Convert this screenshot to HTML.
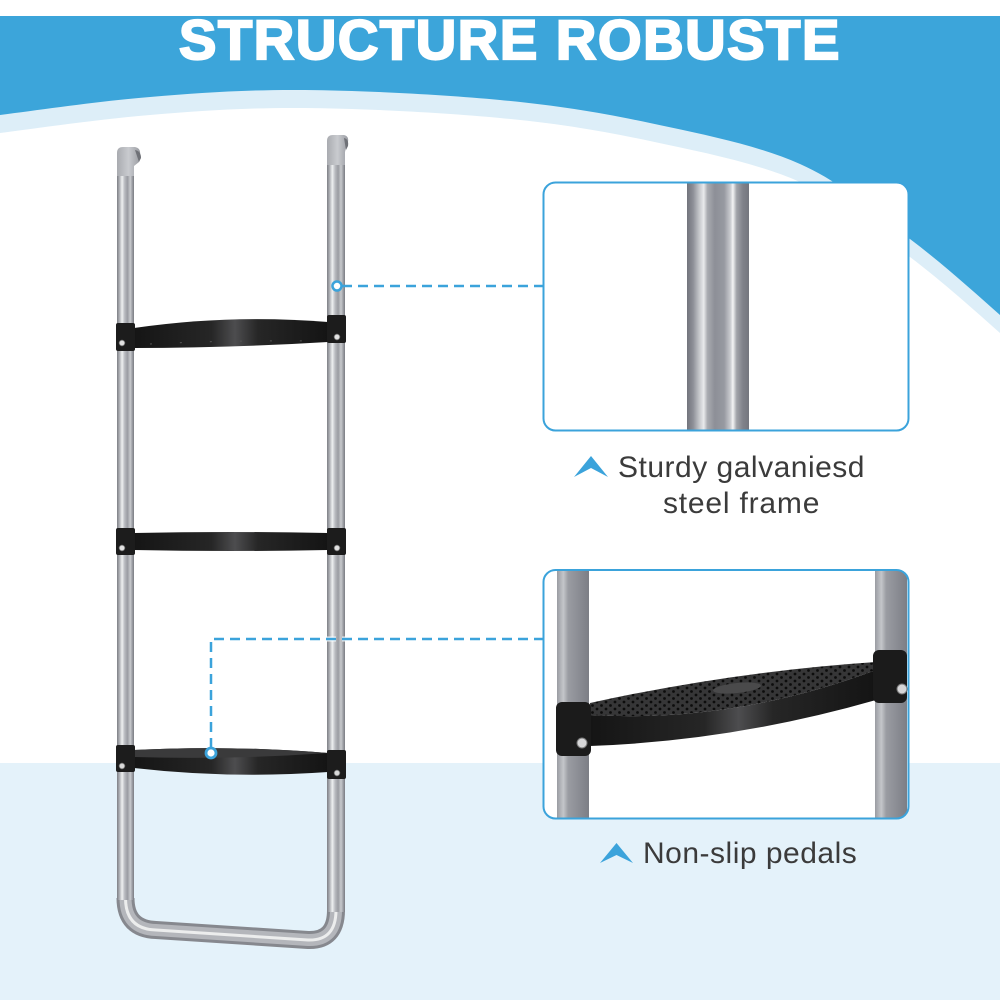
<!DOCTYPE html>
<html>
<head>
<meta charset="utf-8">
<style>
  html,body{margin:0;padding:0;background:#ffffff;}
  svg{display:block;}
</style>
</head>
<body>
<svg width="1000" height="1000" viewBox="0 0 1000 1000" xmlns="http://www.w3.org/2000/svg">
  <defs>
    <linearGradient id="tube" x1="0" y1="0" x2="1" y2="0">
      <stop offset="0" stop-color="#7e8086"/>
      <stop offset="0.12" stop-color="#a4a6ab"/>
      <stop offset="0.3" stop-color="#eef0f1"/>
      <stop offset="0.45" stop-color="#b9bbc0"/>
      <stop offset="0.62" stop-color="#9a9ca2"/>
      <stop offset="0.78" stop-color="#c8cacd"/>
      <stop offset="0.9" stop-color="#9b9da3"/>
      <stop offset="1" stop-color="#7a7c82"/>
    </linearGradient>
    <linearGradient id="bigpole" x1="0" y1="0" x2="1" y2="0">
      <stop offset="0" stop-color="#72747c"/>
      <stop offset="0.1" stop-color="#8e9098"/>
      <stop offset="0.2" stop-color="#c6c8cc"/>
      <stop offset="0.27" stop-color="#e9eaec"/>
      <stop offset="0.33" stop-color="#a9abb1"/>
      <stop offset="0.45" stop-color="#8d8f97"/>
      <stop offset="0.6" stop-color="#979aa1"/>
      <stop offset="0.7" stop-color="#c9cbcf"/>
      <stop offset="0.74" stop-color="#f4f4f5"/>
      <stop offset="0.8" stop-color="#a2a4aa"/>
      <stop offset="0.9" stop-color="#80828a"/>
      <stop offset="1" stop-color="#74767e"/>
    </linearGradient>
    <linearGradient id="pole2" x1="0" y1="0" x2="1" y2="0">
      <stop offset="0" stop-color="#9a9ca2"/>
      <stop offset="0.2" stop-color="#c4c6ca"/>
      <stop offset="0.35" stop-color="#9a9ca2"/>
      <stop offset="0.7" stop-color="#8a8c93"/>
      <stop offset="1" stop-color="#7c7e85"/>
    </linearGradient>
    <linearGradient id="rung" x1="0" y1="0" x2="1" y2="0">
      <stop offset="0" stop-color="#151515"/>
      <stop offset="0.4" stop-color="#262626"/>
      <stop offset="0.52" stop-color="#4d4d4f"/>
      <stop offset="0.64" stop-color="#262626"/>
      <stop offset="1" stop-color="#141414"/>
    </linearGradient>
    <linearGradient id="hook" x1="0" y1="0" x2="1" y2="0">
      <stop offset="0" stop-color="#a9abb0"/>
      <stop offset="0.5" stop-color="#c9cbcf"/>
      <stop offset="1" stop-color="#9a9ca2"/>
    </linearGradient>
    <pattern id="dots" width="9" height="7" patternUnits="userSpaceOnUse">
      <rect width="9" height="7" fill="#363637"/>
      <circle cx="3" cy="2" r="1.4" fill="#0c0c0c"/>
      <circle cx="7.5" cy="5.5" r="1.4" fill="#0c0c0c"/>
    </pattern>
    <clipPath id="clip1"><rect x="543.5" y="182.5" width="365" height="248" rx="12"/></clipPath>
    <clipPath id="clip2"><rect x="543.5" y="570" width="365" height="248.5" rx="12"/></clipPath>
  </defs>

  <!-- background -->
  <rect x="0" y="0" width="1000" height="1000" fill="#ffffff"/>
  <rect x="0" y="16" width="1000" height="420" fill="#3ca5da"/>
  <path transform="translate(0,-18)" fill="#ddeef8" d="M0,133 C41.7,127.7 99.2,119.2 150,115 C200.8,110.8 246.7,107.5 305,108 C363.3,108.5 442.5,112.5 500,118 C557.5,123.5 600,130.3 650,141 C700,151.7 756.7,162.7 800,182 C843.3,201.3 876.7,231.8 910,257 C943.3,282.2 975,310.8 1000,333 L1000,1000 L0,1000 Z"/>
  <path fill="#ffffff" d="M0,133 C41.7,127.7 99.2,119.2 150,115 C200.8,110.8 246.7,107.5 305,108 C363.3,108.5 442.5,112.5 500,118 C557.5,123.5 600,130.3 650,141 C700,151.7 756.7,162.7 800,182 C843.3,201.3 876.7,231.8 910,257 C943.3,282.2 975,310.8 1000,333 L1000,1000 L0,1000 Z"/>
  <rect x="0" y="763" width="1000" height="237" fill="#e4f2fa"/>

  <!-- title -->
  <text x="510" y="59" text-anchor="middle" font-family="'Liberation Sans', sans-serif" font-size="56" font-weight="bold" letter-spacing="1.6" fill="#ffffff" stroke="#ffffff" stroke-width="2.2">STRUCTURE ROBUSTE</text>

  <!-- ladder: U bottom -->
  <path d="M125.5,898 Q125.5,929 156,930 L308,940 Q336,941 336,910" fill="none" stroke="#86888e" stroke-width="18"/>
  <path d="M125.5,898 Q125.5,929 156,930 L308,940 Q336,941 336,910" fill="none" stroke="#b4b6bb" stroke-width="12"/>
  <path d="M125.5,898 Q125.5,929 156,930 L308,940 Q336,941 336,910" fill="none" stroke="#eceded" stroke-width="3"/>

  <!-- poles -->
  <rect x="117" y="166" width="17" height="734" fill="url(#tube)"/>
  <rect x="327" y="155" width="18" height="757" fill="url(#tube)"/>

  <!-- hooks -->
  <path d="M117,176 L117,153 Q117,147 123,147 L135,147 Q141,148 140,155 L139,162 L134,166 L134,176 Z" fill="url(#hook)"/>
  <path d="M135,150 Q141,151 141,158 L139,162 Z" fill="#6f7177"/>
  <path d="M327,165 L327,141 Q327,135 333,135 L344,135 Q349,136 348,142 L346,148 L345,152 L345,165 Z" fill="url(#hook)"/>
  <path d="M344,138 Q349,139 348,146 L346,150 Z" fill="#6f7177"/>

  <!-- rung 1 -->
  <path d="M134,328 Q230,314 328,322 L328,342 Q230,348 134,348 Z" fill="url(#rung)"/>
  <path d="M150,344 Q230,340 318,341" fill="none" stroke="#555" stroke-width="1" stroke-dasharray="2 28"/>
  <rect x="116" y="323" width="19" height="28" rx="2" fill="#1c1c1c"/>
  <rect x="327" y="315" width="19" height="28" rx="2" fill="#1c1c1c"/>
  <circle cx="122" cy="343" r="2.8" fill="#e2e2e2" stroke="#777" stroke-width="0.8"/>
  <circle cx="337" cy="337" r="2.8" fill="#e2e2e2" stroke="#777" stroke-width="0.8"/>

  <!-- rung 2 -->
  <path d="M134,533 Q230,531 328,533 L328,550 Q230,552 134,550 Z" fill="url(#rung)"/>
  <rect x="116" y="528" width="19" height="27" rx="2" fill="#1c1c1c"/>
  <rect x="327" y="528" width="19" height="27" rx="2" fill="#1c1c1c"/>
  <circle cx="122" cy="548" r="2.8" fill="#e2e2e2" stroke="#777" stroke-width="0.8"/>
  <circle cx="337" cy="548" r="2.8" fill="#e2e2e2" stroke="#777" stroke-width="0.8"/>

  <!-- rung 3 -->
  <path d="M134,750 Q230,745 328,753 L328,772 Q230,779 134,768 Z" fill="url(#rung)"/>
  <path d="M134,750 Q230,745 328,753 Q230,760 134,757 Z" fill="#3a3a3b"/>
  <rect x="116" y="745" width="19" height="27" rx="2" fill="#1c1c1c"/>
  <rect x="327" y="750" width="19" height="29" rx="2" fill="#1c1c1c"/>
  <circle cx="122" cy="766" r="2.8" fill="#d8d8d8" stroke="#777" stroke-width="0.8"/>
  <circle cx="337" cy="773" r="2.8" fill="#d8d8d8" stroke="#777" stroke-width="0.8"/>

  <!-- connectors -->
  <line x1="342" y1="286" x2="543" y2="286" stroke="#3ba3db" stroke-width="2.5" stroke-dasharray="10 6"/>
  <path d="M211,748 L211,639 L543,639" fill="none" stroke="#ffffff" stroke-width="5" stroke-dasharray="10 6" opacity="0.8"/>
  <path d="M211,748 L211,639 L543,639" fill="none" stroke="#3ba3db" stroke-width="2.5" stroke-dasharray="10 6"/>
  <circle cx="337" cy="286" r="4.5" fill="#ffffff" stroke="#3ba3db" stroke-width="2.5"/>
  <circle cx="211" cy="753" r="5" fill="#ffffff" stroke="#3ba3db" stroke-width="2.8"/>

  <!-- box 1 -->
  <rect x="543.5" y="182.5" width="365" height="248" rx="12" fill="#ffffff"/>
  <g clip-path="url(#clip1)">
    <rect x="687" y="180" width="62" height="255" fill="url(#bigpole)"/>
  </g>
  <rect x="543.5" y="182.5" width="365" height="248" rx="12" fill="none" stroke="#3ba3db" stroke-width="2"/>

  <!-- box 2 -->
  <rect x="543.5" y="570" width="365" height="248.5" rx="12" fill="#ffffff"/>
  <g clip-path="url(#clip2)">
    <rect x="557" y="565" width="32" height="260" fill="url(#pole2)"/>
    <rect x="875" y="565" width="32" height="260" fill="url(#pole2)"/>
    <!-- pedal -->
    <path d="M590,715 Q733,723.5 876,670 L876,700 Q733,741 590,746 Z" fill="url(#rung)"/>
    <path d="M590,703 Q733,671.5 876,662 L876,670 Q733,723.5 590,715 Z" fill="url(#dots)"/>
    <ellipse cx="737" cy="688" rx="24" ry="5" fill="#4a4a4b" transform="rotate(-6 737 688)"/>
    <rect x="873" y="650" width="34" height="53" rx="6" fill="#1b1b1b"/>
    <rect x="556" y="702" width="35" height="54" rx="6" fill="#1b1b1b"/>
    <circle cx="902" cy="689" r="5" fill="#d6d6d8" stroke="#777" stroke-width="1"/>
    <circle cx="582" cy="743" r="5" fill="#d6d6d8" stroke="#777" stroke-width="1"/>
  </g>
  <rect x="543.5" y="570" width="365" height="248.5" rx="12" fill="none" stroke="#3ba3db" stroke-width="2"/>

  <!-- labels -->
  <polygon points="574,477 591,456 608,477 591,468" fill="#3ba3db"/>
  <text x="618" y="477" font-family="'Liberation Sans', sans-serif" font-size="30" letter-spacing="0.5" fill="#3b3b3b">Sturdy galvaniesd</text>
  <text x="663" y="513" font-family="'Liberation Sans', sans-serif" font-size="30" letter-spacing="0.8" fill="#3b3b3b">steel frame</text>

  <polygon points="600,863 616.5,843 633,863 616.5,855" fill="#3ba3db"/>
  <text x="643" y="863" font-family="'Liberation Sans', sans-serif" font-size="30" letter-spacing="0.5" fill="#3b3b3b">Non-slip pedals</text>
</svg>
</body>
</html>
